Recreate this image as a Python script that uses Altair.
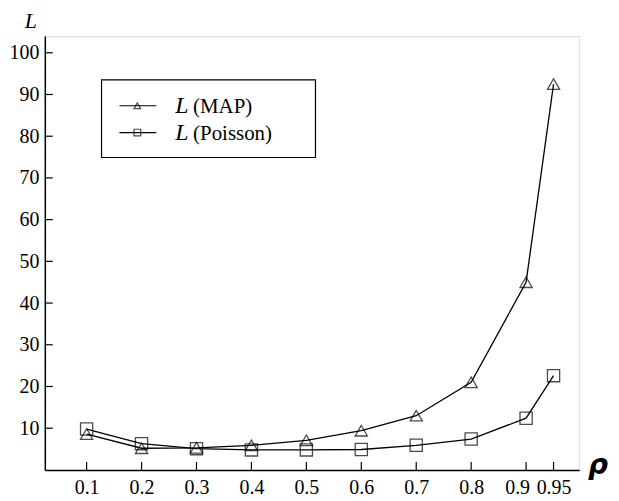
import altair as alt
import pandas as pd

rho = [0.1, 0.2, 0.3, 0.4, 0.5, 0.6, 0.7, 0.8, 0.9, 0.95]
L_map = [8.6, 5.2, 5.3, 5.9, 7.1, 9.4, 13.0, 21.0, 45.0, 92.5]
L_poisson = [9.8, 6.3, 5.1, 4.8, 4.8, 4.9, 5.9, 7.4, 12.4, 22.6]
y_ticks = [10, 20, 30, 40, 50, 60, 70, 80, 90, 100]
series_names = ["MAP", "Poisson"]

FONT = "Liberation Serif, Times New Roman, DejaVu Serif, serif"
W, H = 537, 436
XDOM = [0.0239, 0.9966]
YDOM = [0, 104]

df = pd.DataFrame(
    {"rho": rho * 2, "L": L_map + L_poisson,
     "series": [series_names[0]] * len(rho) + [series_names[1]] * len(rho)}
)

xs = alt.Scale(domain=XDOM, nice=False, zero=False)
ys = alt.Scale(domain=YDOM, nice=False, zero=False)

base = alt.Chart(df)

lines = base.mark_line(color="black", strokeWidth=1.3).encode(
    x=alt.X("rho:Q", scale=xs,
            axis=alt.Axis(values=rho, format=".2~f", title=None, grid=False,
                          ticks=False, domainColor="black", domainWidth=1.5,
                          labelFont=FONT, labelFontSize=20, labelColor="black",
                          labelPadding=8, labelOverlap=False, labelFlush=False,
                          labelOffset=alt.condition("abs(datum.value - 0.9) < 0.001",
                                                    alt.value(-9), alt.value(0)))),
    y=alt.Y("L:Q", scale=ys,
            axis=alt.Axis(values=y_ticks, title=None, grid=False, ticks=False,
                          domainColor="black", domainWidth=1.5,
                          labelFont=FONT, labelFontSize=20, labelColor="black",
                          labelPadding=6, labelOverlap=False)),
    detail="series:N",
)

points = base.mark_point(filled=False, color="black", strokeWidth=1.3, size=150).encode(
    x=alt.X("rho:Q", scale=xs),
    y=alt.Y("L:Q", scale=ys),
    shape=alt.Shape("series:N",
                    scale=alt.Scale(domain=series_names, range=["triangle-up", "square"]),
                    legend=None),
)

# inward tick marks
xt = alt.Chart(pd.DataFrame({"v": rho})).mark_rule(color="black", strokeWidth=1.2).encode(
    x=alt.X("v:Q", scale=xs), y=alt.value(H), y2=alt.value(H - 8))
yt = alt.Chart(pd.DataFrame({"v": y_ticks})).mark_rule(color="black", strokeWidth=1.2).encode(
    y=alt.Y("v:Q", scale=ys), x=alt.value(0), x2=alt.value(8))

# axis titles
ttl = pd.DataFrame({"t": ["L"]})
ytitle = alt.Chart(ttl).mark_text(font=FONT, fontStyle="italic", fontSize=22,
                                  align="center", baseline="alphabetic").encode(
    text="t:N", x=alt.value(-14), y=alt.value(-8))
xtitle = alt.Chart(pd.DataFrame({"t": ["ρ"]})).mark_text(
    font="DejaVu Sans", fontWeight="bold", fontStyle="italic", fontSize=28,
    align="center", baseline="alphabetic").encode(
    text="t:N", x=alt.value(556), y=alt.value(440))

# legend
leg_box = alt.Chart(ttl).mark_rect(fill="white", stroke="black", strokeWidth=1.2).encode(
    x=alt.value(57), x2=alt.value(272), y=alt.value(44), y2=alt.value(122))
leg_layers = [leg_box]
for i, (name, shp) in enumerate(zip(series_names, ["triangle-up", "square"])):
    yy = 70 + 27 * i
    d = pd.DataFrame({"t": [name]})
    leg_layers.append(alt.Chart(d).mark_rule(color="black", strokeWidth=1.2).encode(
        x=alt.value(75), x2=alt.value(112), y=alt.value(yy)))
    leg_layers.append(alt.Chart(d).mark_point(shape=shp, filled=False, color="black",
                                              strokeWidth=1.2, size=45).encode(
        x=alt.value(93), y=alt.value(yy)))
    leg_layers.append(alt.Chart(pd.DataFrame({"t": ["L"]})).mark_text(
        font=FONT, fontStyle="italic", fontSize=24, align="left", baseline="middle").encode(
        text="t:N", x=alt.value(131), y=alt.value(yy)))
    leg_layers.append(alt.Chart(pd.DataFrame({"t": ["(" + name + ")"]})).mark_text(
        font=FONT, fontSize=21, align="left", baseline="middle").encode(
        text="t:N", x=alt.value(149), y=alt.value(yy + 1)))

chart = alt.layer(lines, points, xt, yt, ytitle, xtitle, *leg_layers).properties(
    width=W, height=H,
    autosize=alt.AutoSizeParams(type="none"),
    padding={"left": 37, "top": 27, "right": 32, "bottom": 30},
).configure_view(stroke=None).configure(background="white")

chart.save("out.html", embed_options={"renderer": "svg", "actions": False})
